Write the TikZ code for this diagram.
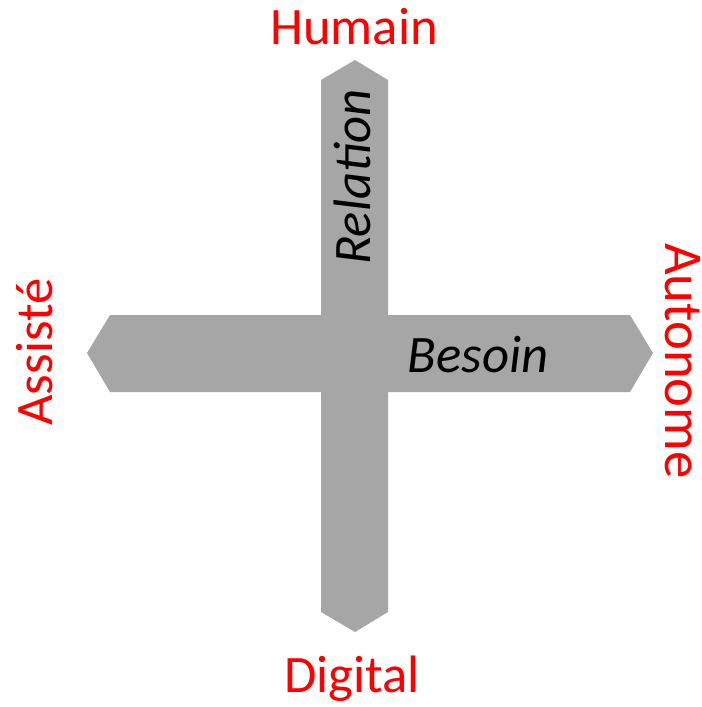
\documentclass[tikz,border=0pt]{standalone}
\usepackage{fontspec}
\setmainfont{Carlito}
\definecolor{crossgray}{HTML}{A6A6A6}
\definecolor{poleRed}{HTML}{FF0000}
\tikzset{
  pole/.style={text=poleRed,inner sep=0pt,font=\fontsize{39.5}{42}\selectfont},
  axislabel/.style={text=black,inner sep=0pt,font=\fontsize{39.5}{42}\selectfont\itshape}
}
\begin{document}
\begin{tikzpicture}[x=0.75pt,y=-0.75pt]
  \useasboundingbox (0,0) rectangle (702,707);
  % horizontal arrow
  \fill[crossgray] (87,353) -- (110,315) -- (630,315) -- (653,353) -- (630,392) -- (110,392) -- cycle;
  % vertical arrow
  \fill[crossgray] (355,60) -- (388,80) -- (388,612) -- (355,632) -- (321,612) -- (321,80) -- cycle;
  \node[axislabel,rotate=90] (relation) at (352,177) {Relation};
  \node[axislabel] (besoin) at (478,355) {Besoin};
  \node[pole] (humain) at (354,27) {Humain};
  \node[pole] (digital) at (352,679) {Digital};
  \node[pole,rotate=90] (assiste) at (35,352) {Assisté};
  \node[pole,rotate=-90,font=\fontsize{41}{44}\selectfont] (autonome) at (683,361) {Autonome};
\end{tikzpicture}
\end{document}
